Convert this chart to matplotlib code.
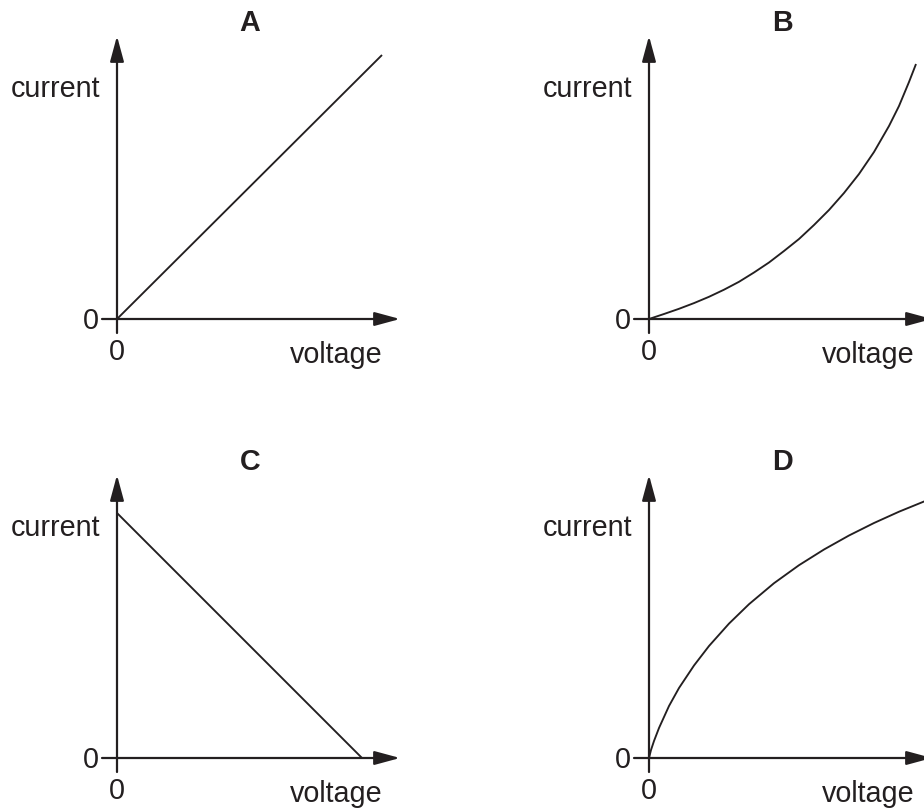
import matplotlib
matplotlib.use("Agg")
import matplotlib.pyplot as plt

plt.rcParams['font.family'] = ['Liberation Sans', 'DejaVu Sans']

INK = '#231f20'

# ---- data (arbitrary units, origin at 0,0) ----
panel_labels = ['A', 'B', 'C', 'D']

voltage_A = [0, 265]
current_A = [0, 264]

voltage_B = [0, 15, 30, 45, 60, 75, 90, 105, 120, 135, 150, 165, 180, 195,
             210, 225, 240, 250, 260, 267]
current_B = [0, 5.0, 10.2, 15.9, 22.2, 29.3, 37.2, 46.5, 56.5, 68, 80, 94,
             109, 126, 145, 167, 193, 213, 237, 255]

voltage_C = [0, 245]
current_C = [245, 0]

voltage_D = [0, 2, 5, 10, 20, 30, 45, 60, 80, 100, 125, 150, 175, 200,
             225, 250, 276]
current_D = [0, 8, 17, 30, 52, 70, 92.5, 112, 134.4, 153.8, 174.8, 192.8,
             208.5, 222.5, 235, 246.3, 256.9]

x_label = 'voltage'
y_label = 'current'
zero_label = '0'

series = [(voltage_A, current_A), (voltage_B, current_B),
          (voltage_C, current_C), (voltage_D, current_D)]

W, H = 924, 810
fig = plt.figure(figsize=(W / 100, H / 100), dpi=100)
fig.patch.set_facecolor('white')

# quadrant boxes (fig px: left, top, width, height) and origin in fig px
quads = [(0, 0, 462, 405), (462, 0, 462, 405), (0, 405, 462, 405), (462, 405, 462, 405)]
origins = [(117, 319), (649, 319), (117, 758), (649, 758)]

FS = 20.7
for (qx, qy, qw, qh), (ox, oy), lab, (v, c) in zip(quads, origins, panel_labels, series):
    ax = fig.add_axes([qx / W, 1 - (qy + qh) / H, qw / W, qh / H])
    ax.set_xlim(qx - ox, qx + qw - ox)
    ax.set_ylim(-(qy + qh - oy), oy - qy)
    ax.axis('off')

    # axes with arrow heads
    arrow = dict(arrowstyle='-|>,head_length=1.55,head_width=0.42', mutation_scale=10,
                 lw=1.6, color=INK, shrinkA=0, shrinkB=0)
    ax.annotate('', xy=(283, 0), xytext=(-15, 0), arrowprops=arrow, annotation_clip=False)
    ax.annotate('', xy=(0, 283), xytext=(0, -14), arrowprops=arrow, annotation_clip=False)

    # curve
    ax.plot(v, c, color=INK, lw=1.35, solid_capstyle='butt', solid_joinstyle='round',
            clip_on=False)

    # texts
    ax.text(133, 288, lab, fontsize=FS, fontweight='bold', ha='center', va='baseline', color=INK)
    ax.text(-17, 222, y_label, fontsize=FS, ha='right', va='baseline', color=INK)
    ax.text(-18, -10, zero_label, fontsize=FS, ha='right', va='baseline', color=INK)
    ax.text(0, -41, zero_label, fontsize=FS, ha='center', va='baseline', color=INK)
    ax.text(266, -44, x_label, fontsize=FS, ha='right', va='baseline', color=INK, clip_on=False)

fig.savefig('out.png', dpi=100, facecolor='white')
